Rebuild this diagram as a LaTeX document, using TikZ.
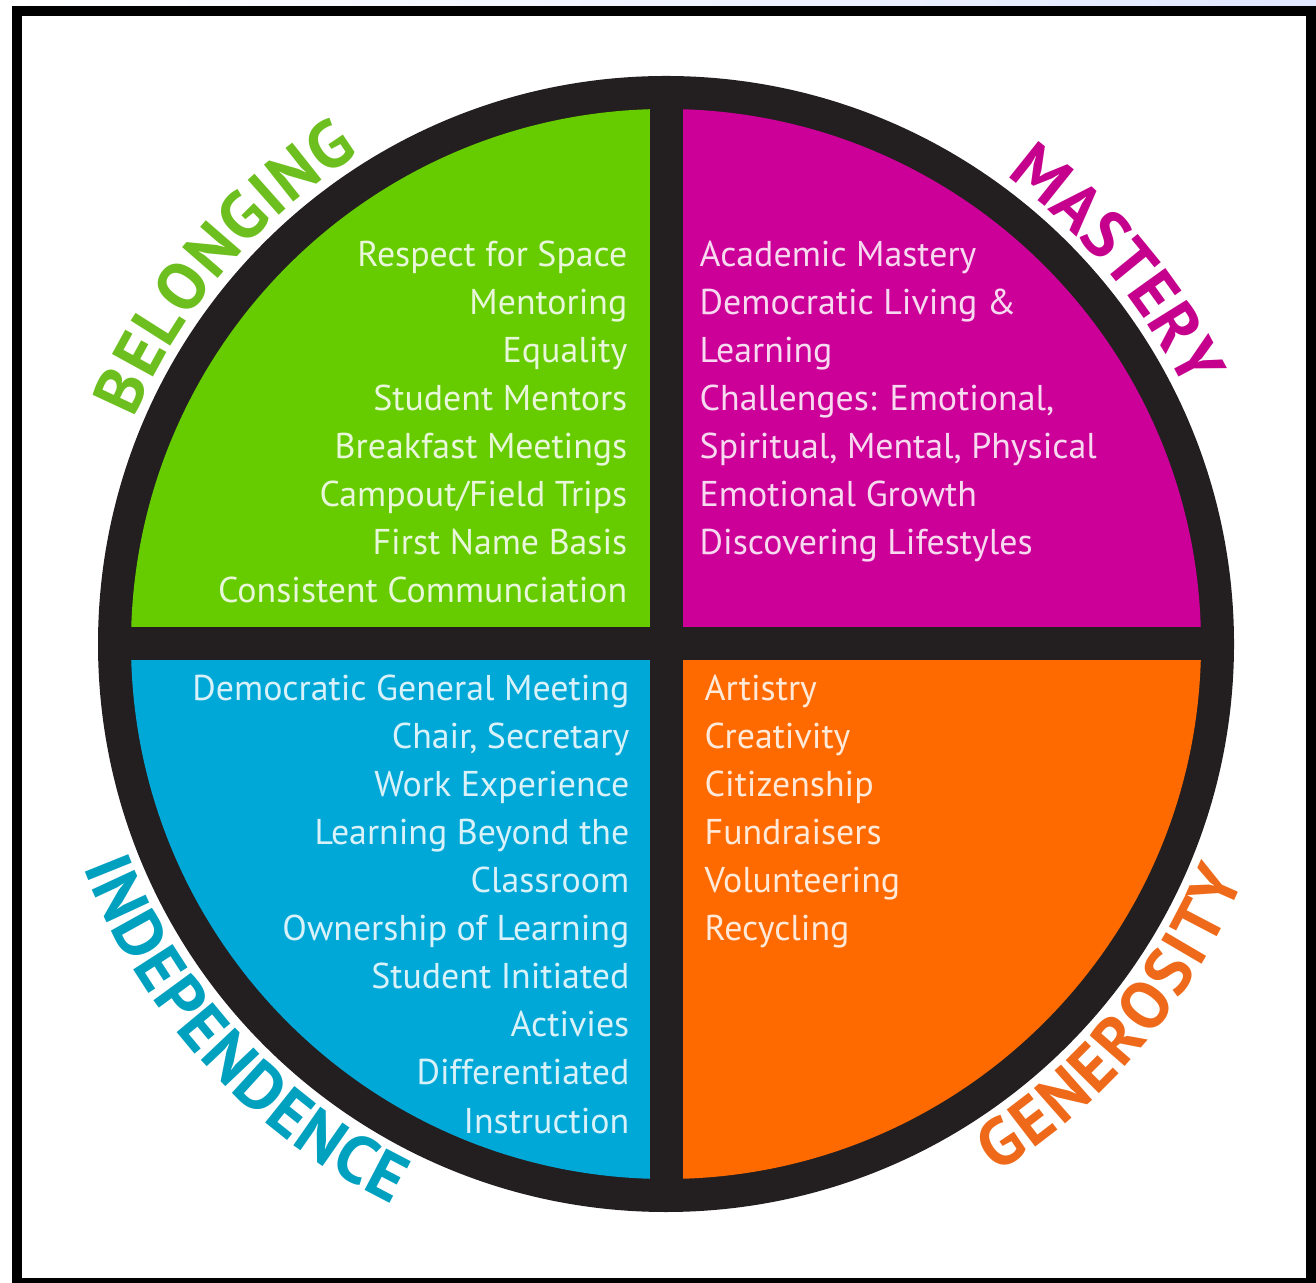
\documentclass[tikz,border=0pt]{standalone}
\usepackage{fontspec}
\setmainfont{PT Sans}
\usetikzlibrary{decorations.text}
\definecolor{ring}{HTML}{231F20}
\definecolor{belonging}{HTML}{66CC00}
\definecolor{mastery}{HTML}{CC0099}
\definecolor{independence}{HTML}{00A8D8}
\definecolor{generosity}{HTML}{FF6A00}
\definecolor{belongingtxt}{HTML}{6CBF1E}
\definecolor{masterytxt}{HTML}{C4008C}
\definecolor{independencetxt}{HTML}{00A0BF}
\definecolor{generositytxt}{HTML}{EE6A1A}
\newcommand{\lblfont}{\fontsize{19}{19}\selectfont\bfseries}

\begin{document}
\begin{tikzpicture}[x=0.01cm,y=0.01cm,
  item/.style={inner sep=0pt,font=\fontsize{10.2}{12}\selectfont}]

  \useasboundingbox (0,0) rectangle (1316,1282);
  \shade[left color=white,right color=cyan!20!blue!12!white] (0,1276) rectangle (1316,1282);
  \draw[line width=0.1cm] (17,-1) rectangle (1310.5,1270.5);

  \coordinate (c) at (666,638);

%  Ring and quadrants
  \fill[ring] (c) circle[radius=568];
  \begin{scope}
    \clip (c) circle[radius=535];
    \fill[belonging] (0,655) rectangle (650,1282);
    \fill[mastery] (683,655) rectangle (1316,1282);
    \fill[independence] (0,0) rectangle (650,622);
    \fill[generosity] (683,0) rectangle (1316,622);
  \end{scope}

%  Quadrant items
  \foreach \txt [count=\i] in {Respect for Space,Mentoring,Equality,Student Mentors,Breakfast Meetings,Campout/Field Trips,First Name Basis,Consistent Communciation}
    \node[item,text=white!85!belonging,anchor=base east] (bel\i) at (628,{1063-48*\i}) {\txt};

  \foreach \txt [count=\i] in {Academic Mastery,Democratic Living \&,Learning,{Challenges: Emotional,},{Spiritual, Mental, Physical},Emotional Growth,Discovering Lifestyles}
    \node[item,text=white!85!mastery,anchor=base west] (mas\i) at (699,{1063-48*\i}) {\txt};

  \foreach \txt [count=\i] in {Democratic General Meeting,{Chair, Secretary},Work Experience,Learning Beyond the,Classroom,Ownership of Learning,Student Initiated,Activies,Differentiated,Instruction}
    \node[item,text=white!85!independence,anchor=base east] (ind\i) at (630,{630-48.1*\i}) {\txt};

  \foreach \txt [count=\i] in {Artistry,Creativity,Citizenship,Fundraisers,Volunteering,Recycling}
    \node[item,text=white!85!generosity,anchor=base west] (gen\i) at (704,{630-48.1*\i}) {\txt};

%  Labels round the ring
  \path[decorate,decoration={text along path,text={|\lblfont|BELONGING},text align=fit to path,text color=belongingtxt}]
    (c) ++(157:578) arc[start angle=157,end angle=122,radius=578];
  \path[decorate,decoration={text along path,text={|\lblfont|MASTERY},text align=fit to path,text color=masterytxt}]
    (c) ++(54:578) arc[start angle=54,end angle=26,radius=578];
  \path[decorate,decoration={text along path,text={|\lblfont|INDEPENDENCE},text align=fit to path,text color=independencetxt}]
    (c) ++(201:624) arc[start angle=201,end angle=244,radius=624];
  \path[decorate,decoration={text along path,text={|\lblfont|GENEROSITY},text align=fit to path,text color=generositytxt}]
    (c) ++(302:624) arc[start angle=302,end angle=338,radius=624];

\end{tikzpicture}
\end{document}
